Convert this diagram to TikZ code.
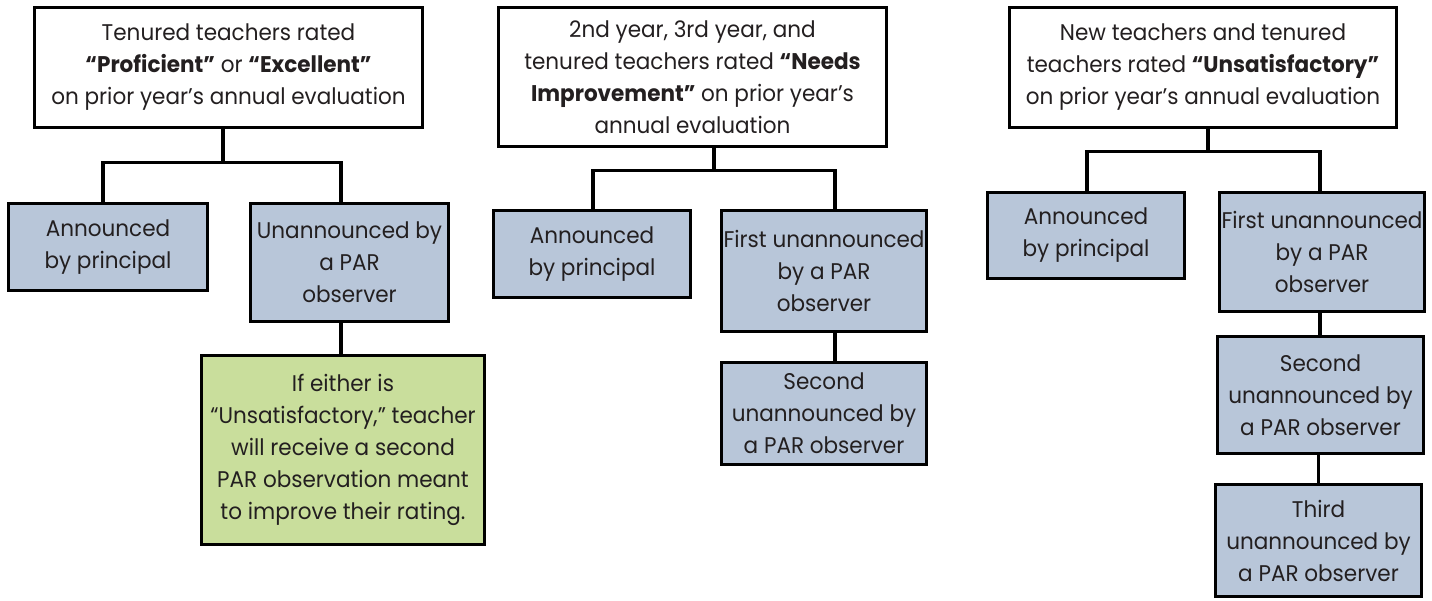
\documentclass[tikz,border=0pt]{standalone}
\usepackage{fontspec}
\setmainfont{Poppins}[FakeStretch=0.95]
\definecolor{boxblue}{HTML}{B8C6D9}
\definecolor{boxgreen}{HTML}{C9DE9C}
\definecolor{ink}{HTML}{231F20}
\begin{document}
\begin{tikzpicture}[x=0.75pt,y=-0.75pt,
  bx/.style={draw=black, line width=2.4pt, align=center, inner sep=0pt,
    text=ink, font=\fontsize{17}{24}\selectfont},
  topbox/.style={bx, fill=white},
  bluebox/.style={bx, fill=boxblue},
  greenbox/.style={bx, fill=boxgreen},
  conn/.style={draw=black, line width=2.4pt}]
\path[use as bounding box] (0,0) rectangle (1432,600);
\fill[white] (0,0) rectangle (1432,600);
% column 1
\node[topbox, minimum width=388*0.75pt, minimum height=120*0.75pt] (T1) at (228.5,67.5)
  {Tenured teachers rated\\\textbf{“Proficient”} or \textbf{“Excellent”}\\on prior year’s annual evaluation};
\node[bluebox, minimum width=199*0.75pt, minimum height=87*0.75pt] (A1) at (108,247)
  {Announced\\by principal};
\node[bluebox, minimum width=198*0.75pt, minimum height=118*0.75pt] (U1) at (349.5,262.5)
  {Unannounced by\\a PAR\\observer};
\node[greenbox, minimum width=283*0.75pt, minimum height=189*0.75pt] (G1) at (343,450)
  {If either is\\“Unsatisfactory,” teacher\\will receive a second\\PAR observation meant\\to improve their rating.};
% column 2
\node[topbox, minimum width=388*0.75pt, minimum height=139*0.75pt] (T2) at (692.5,77)
  {2nd year, 3rd year, and\\tenured teachers rated \textbf{“Needs}\\\textbf{Improvement”} on prior year’s\\annual evaluation};
\node[bluebox, minimum width=197*0.75pt, minimum height=87*0.75pt] (A2) at (592,254)
  {Announced\\by principal};
\node[bluebox, minimum width=205*0.75pt, minimum height=121*0.75pt] (F2) at (824,271)
  {First unannounced\\by a PAR\\observer};
\node[bluebox, minimum width=205*0.75pt, minimum height=102*0.75pt] (S2) at (824,413.5)
  {Second\\unannounced by\\a PAR observer};
% column 3
\node[topbox, minimum width=387*0.75pt, minimum height=120*0.75pt] (T3) at (1203,67.5)
  {New teachers and tenured\\teachers rated \textbf{“Unsatisfactory”}\\on prior year’s annual evaluation};
\node[bluebox, minimum width=197*0.75pt, minimum height=86*0.75pt] (A3) at (1086,235.5)
  {Announced\\by principal};
\node[bluebox, minimum width=205*0.75pt, minimum height=119*0.75pt] (F3) at (1322,252)
  {First unannounced\\by a PAR\\observer};
\node[bluebox, minimum width=206*0.75pt, minimum height=117*0.75pt] (S3) at (1320.5,395)
  {Second\\unannounced by\\a PAR observer};
\node[bluebox, minimum width=206*0.75pt, minimum height=112*0.75pt] (R3) at (1318.5,540.5)
  {Third\\unannounced by\\a PAR observer};
% connectors column 1
\draw[conn] ([xshift=-5.5*0.75pt]T1.south) -- ++(0,33) -| ([xshift=-5*0.75pt]A1.north);
\draw[conn] ([xshift=-5.5*0.75pt]T1.south) -- ++(0,33) -| ([xshift=-8.5*0.75pt]U1.north);
\draw[conn] ([xshift=-8.5*0.75pt]U1.south) -- ([xshift=-8.5*0.75pt]U1.south |- G1.north);
% column 2
\draw[conn] ([xshift=21.5*0.75pt]T2.south) -- ++(0,22) -| ([xshift=1*0.75pt]A2.north);
\draw[conn] ([xshift=21.5*0.75pt]T2.south) -- ++(0,22) -| ([xshift=11*0.75pt]F2.north);
\draw[conn] ([xshift=11*0.75pt]F2.south) -- ([xshift=11*0.75pt]F2.south |- S2.north);
% column 3
\draw[conn] ([xshift=5*0.75pt]T3.south) -- ++(0,22) -| ([xshift=1*0.75pt]A3.north);
\draw[conn] ([xshift=5*0.75pt]T3.south) -- ++(0,22) -| ([xshift=-2*0.75pt]F3.north);
\draw[conn] ([xshift=-2*0.75pt]F3.south) -- ([xshift=-2*0.75pt]F3.south |- S3.north);
\draw[conn] ([xshift=-2*0.75pt]S3.south) -- ([xshift=-2*0.75pt]S3.south |- R3.north);
\end{tikzpicture}
\end{document}
